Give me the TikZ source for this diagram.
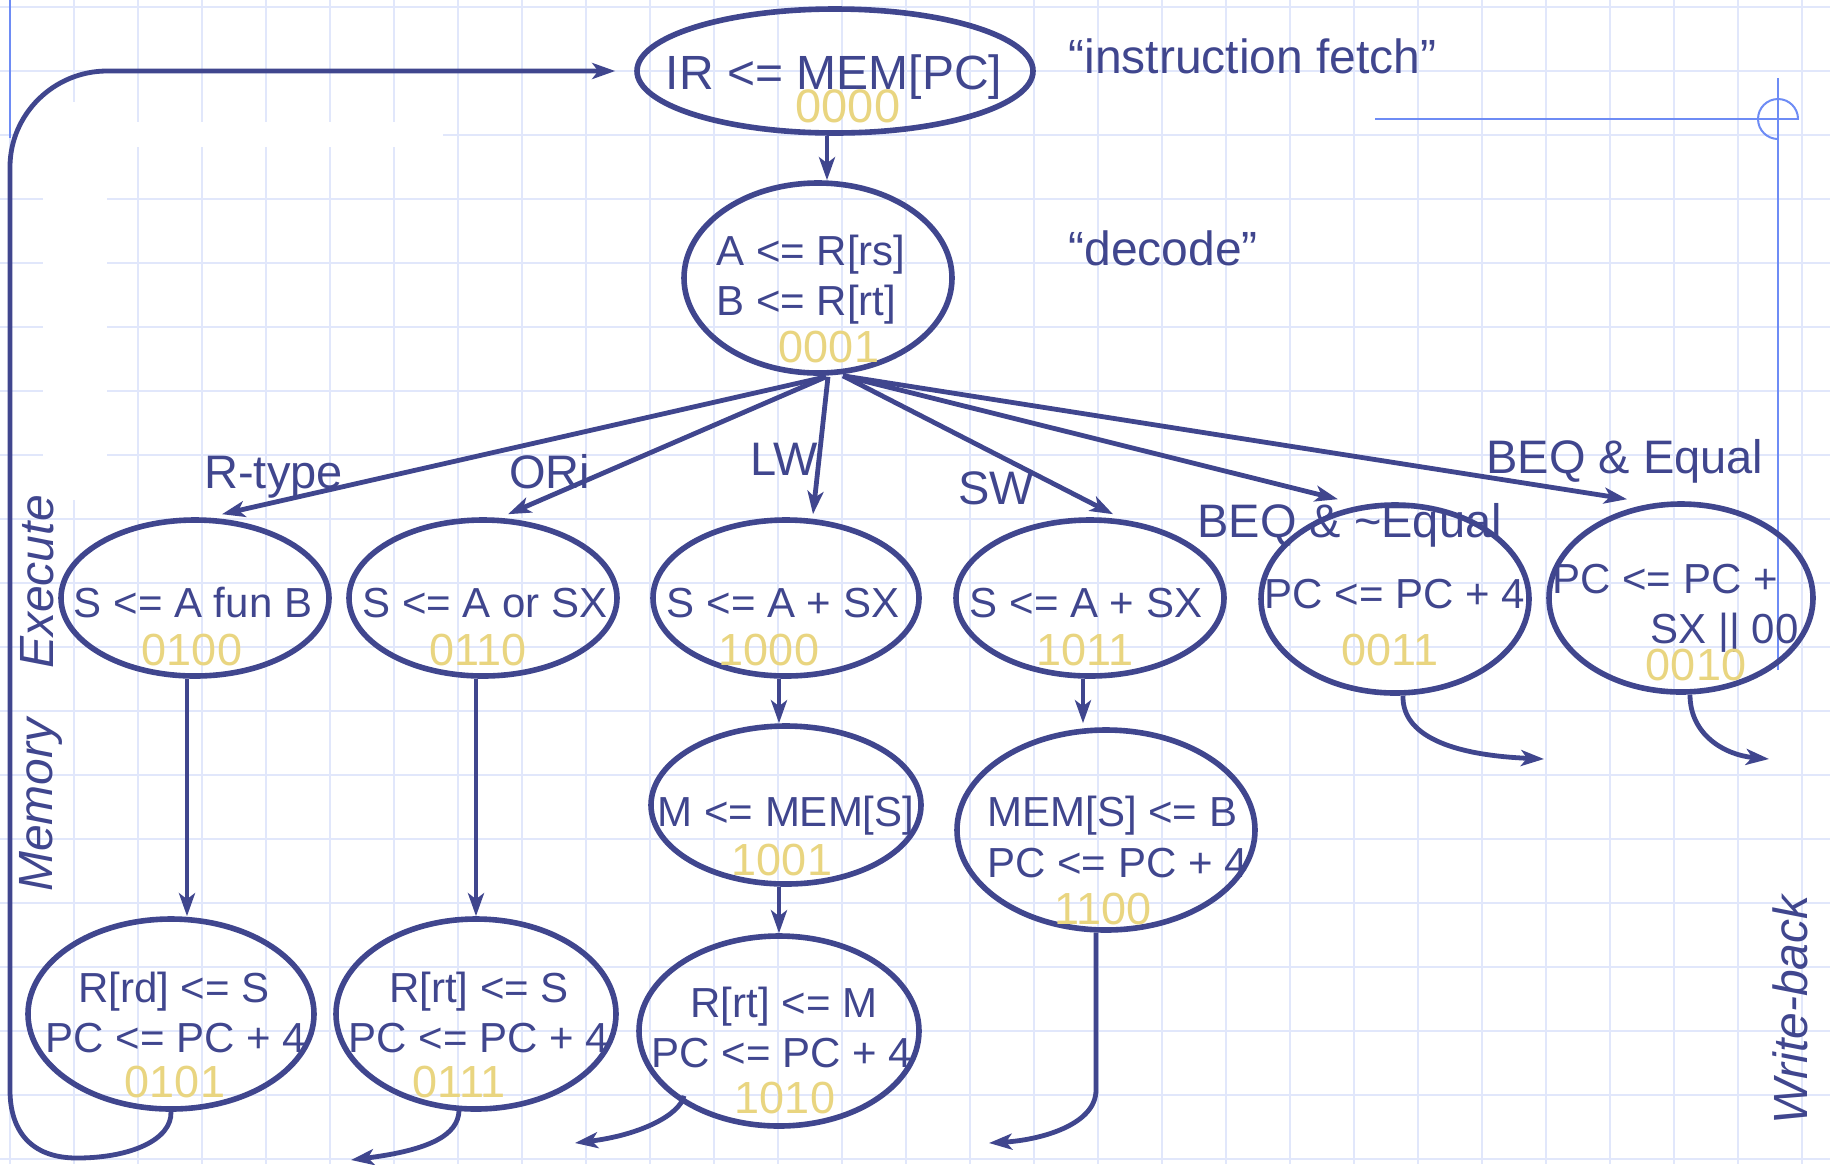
\documentclass[tikz,border=0pt]{standalone}
\usepackage{fontspec}
\setmainfont{Liberation Sans}
\usetikzlibrary{shapes.geometric,arrows.meta,calc}
\definecolor{navy}{RGB}{64,70,142}
\definecolor{gold}{RGB}{233,213,128}
\definecolor{gridc}{RGB}{225,231,251}
\definecolor{lblue}{RGB}{110,140,245}
\begin{document}
\begin{tikzpicture}[x=0.5pt,y=-0.5pt,
  st/.style={draw=navy, line width=2.8pt, ellipse, inner sep=0pt},
  conn/.style={draw=navy, line width=2.4pt, -{Stealth[length=11.5pt,width=8pt,inset=3pt]}},
  txt/.style={text=navy, font=\fontsize{21}{25}\selectfont, inner sep=0pt, anchor=base},
  big/.style={text=navy, font=\fontsize{24}{28}\selectfont, inner sep=0pt, anchor=base},
  num/.style={text=gold, font=\fontsize{22.5}{26}\selectfont, inner sep=0pt, anchor=base},
  lbl/.style={text=navy, font=\fontsize{23.5}{28}\selectfont, inner sep=0pt, anchor=base west},
  side/.style={text=navy, font=\itshape\fontsize{24}{28}\selectfont, inner sep=0pt, rotate=90, anchor=base},
  thin/.style={draw=lblue, line width=1pt}]
\useasboundingbox (0,0) rectangle (1830,1164);
\fill[white] (0,0) rectangle (1830,1164);
% background grid
\foreach \i in {0,...,28} \draw[gridc, line width=1.1pt] (10+64*\i,0) -- (10+64*\i,1164);
\foreach \j in {0,...,18} \draw[gridc, line width=1.1pt] (0,7+64*\j) -- (1830,7+64*\j);
\fill[white] (17,122) rectangle (443,147);
\fill[white] (43,102) rectangle (107,500);
% guide lines
\draw[thin] (10,0) -- (10,138);
\draw[thin] (1375,119) -- (1799,119);
\draw[thin] (1778,78) -- (1778,670);
\draw[thin] (1778,139) arc[start angle=90, end angle=360, radius=20];

% states
\node[st, minimum width=198pt, minimum height=62pt] (s0) at (835,71) {};
\node[st, minimum width=134pt, minimum height=95pt] (s1) at (818,278) {};
\node[st, minimum width=134pt, minimum height=78pt] (s4) at (195,598) {};
\node[st, minimum width=134pt, minimum height=78pt] (s6) at (483,598) {};
\node[st, minimum width=133pt, minimum height=78pt] (s8) at (786,598) {};
\node[st, minimum width=134pt, minimum height=78pt] (s11) at (1090,598) {};
\node[st, minimum width=134pt, minimum height=94pt] (s3) at (1395,599) {};
\node[st, minimum width=132pt, minimum height=94pt] (s2) at (1681,598) {};
\node[st, minimum width=135pt, minimum height=79pt] (s9) at (786,805) {};
\node[st, minimum width=149pt, minimum height=100pt] (s12) at (1106,830) {};
\node[st, minimum width=143pt, minimum height=95pt] (s5) at (171,1014) {};
\node[st, minimum width=140pt, minimum height=95pt] (s7) at (476,1014) {};
\node[st, minimum width=140pt, minimum height=95pt] (s10) at (779,1031) {};

% free ends
\coordinate (e0) at ($(s0.west)+(-19,0)$);
\coordinate (e7) at (351,1160);
\coordinate (e10) at (575,1143);
\coordinate (e12) at (989,1143);
\coordinate (e3) at (1544,759);
\coordinate (e2) at (1769,759);

% connectors
\draw[conn] (s5.south) .. controls (172,1140) and (130,1158) .. (77,1158)
  .. controls (30,1158) and (10,1130) .. (10,1090) -- (10,167)
  .. controls (10,114) and (54,71) .. (107,71) -- (e0);
\draw[conn] ($(s0.south)+(-8,0)$) -- ($(s1.north)+(9,0)$);
\draw[conn] ($(s1.south)+(8,1)$) -- ($(s4.north)+(27,-3)$);
\draw[conn] ($(s1.south)+(8,1)$) -- ($(s6.north)+(25,-3)$);
\draw[conn] ($(s1.south)+(10,1)$) -- ($(s8.north)+(27,-3)$);
\draw[conn] ($(s1.south)+(25,0)$) -- ($(s11.north)+(23,-3)$);
\draw[conn] ($(s1.south)+(25,0)$) -- ($(s3.north)+(-57,-3)$);
\draw[conn] ($(s1.south)+(25,0)$) -- ($(s2.north)+(-54,-2)$);
\draw[conn] ($(s4.south)+(-8,0)$) -- ($(s5.north)+(16,0)$);
\draw[conn] ($(s6.south)+(-7,0)$) -- (s7.north);
\draw[conn] ($(s8.south)+(-7,0)$) -- ($(s9.north)+(-7,0)$);
\draw[conn] ($(s9.south)+(-7,0)$) -- (s10.north);
\draw[conn] ($(s11.south)+(-7,0)$) -- ($(s12.north)+(-23,-4)$);
\draw[conn] ($(s7.south)+(-17,-1)$) .. controls (458,1135) and (430,1150) .. (e7);
\draw[conn] ($(s10.south)+(-95,-33)$) .. controls (680,1115) and (640,1135) .. (e10);
\draw[conn] ($(s12.south)+(-10,0)$) -- (1096,1090) .. controls (1096,1125) and (1040,1140) .. (e12);
\draw[conn] ($(s3.south)+(8,0)$) .. controls (1402,735) and (1450,755) .. (e3);
\draw[conn] ($(s2.south)+(9,0)$) .. controls (1690,735) and (1725,755) .. (e2);

% state texts
\node[big] (t0) at (834,89) {IR <= MEM[PC]};
\node[num, font=\fontsize{23.5}{27}\selectfont] (n0) at (848,122) {0000};
\node[txt, anchor=base west] (t1a) at (716,265) {A <= R[rs]};
\node[txt, anchor=base west] (t1b) at (716,315) {B <= R[rt]};
\node[num] (n1) at (829,362) {0001};
\node[txt] (t4) at (193,617) {S <= A fun B};
\node[num] (n4) at (192,665) {0100};
\node[txt] (t6) at (485,617) {S <= A or SX};
\node[num] (n6) at (478,665) {0110};
\node[txt] (t8) at (783,617) {S <= A + SX};
\node[num] (n8) at (769,665) {1000};
\node[txt] (t11) at (1086,617) {S <= A + SX};
\node[num] (n11) at (1085,665) {1011};
\node[txt] (t3) at (1395,608) {PC <= PC + 4};
\node[num] (n3) at (1390,665) {0011};
\node[txt, anchor=base west] (t2a) at (1552,593) {PC <= PC +};
\node[txt, anchor=base east] (t2b) at (1799,643) {SX || 00};
\node[num] (n2) at (1696,680) {0010};
\node[txt] (t9) at (786,826) {M <= MEM[S]};
\node[num] (n9) at (782,875) {1001};
\node[txt, anchor=base west] (t12a) at (987,826) {MEM[S] <= B};
\node[txt, anchor=base west] (t12b) at (987,877) {PC <= PC + 4};
\node[num] (n12) at (1103,924) {1100};
\node[txt] (t5a) at (174,1002) {R[rd] <= S};
\node[txt] (t5b) at (176,1052) {PC <= PC + 4};
\node[num] (n5) at (175,1097) {0101};
\node[txt] (t7a) at (479,1002) {R[rt] <= S};
\node[txt] (t7b) at (479,1052) {PC <= PC + 4};
\node[num] (n7) at (459,1097) {0111};
\node[txt] (t10a) at (784,1017) {R[rt] <= M};
\node[txt] (t10b) at (782,1067) {PC <= PC + 4};
\node[num] (n10) at (785,1113) {1010};

% labels
\node[lbl, font=\fontsize{24}{28}\selectfont] (lf) at (1068,73) {“instruction fetch”};
\node[lbl, font=\fontsize{24}{28}\selectfont] (ld) at (1068,265) {“decode”};
\node[lbl] (lr) at (204,488) {R-type};
\node[lbl] (lo) at (509,488) {ORi};
\node[lbl] (llw) at (750,475) {LW};
\node[lbl] (lsw) at (958,504) {SW};
\node[lbl] (lbn) at (1197,537) {BEQ \& \textasciitilde Equal};
\node[lbl] (lbe) at (1486,473) {BEQ \& Equal};
\node[side] (lex) at (53,582) {Execute};
\node[side] (lme) at (52,805) {Memory};
\node[side] (lwb) at (1807,1010) {Write-back};
\end{tikzpicture}
\end{document}
